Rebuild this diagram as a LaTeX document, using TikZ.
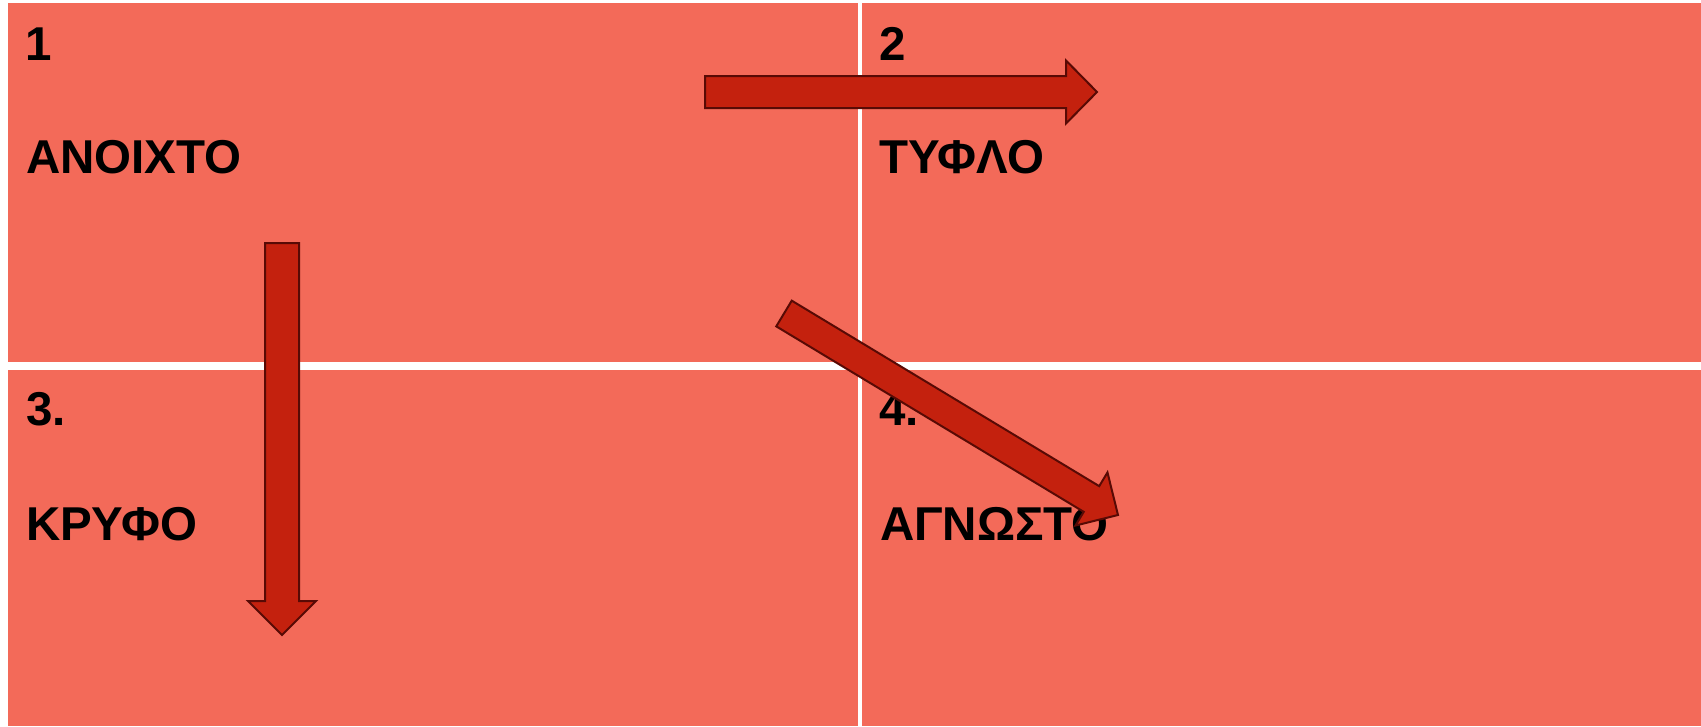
\documentclass[tikz,border=0pt]{standalone}
\usepackage{fontspec}
\setmainfont{Liberation Sans}
\usetikzlibrary{calc}
\usetikzlibrary{positioning}
\definecolor{panelred}{RGB}{243,106,89}
\definecolor{arrowred}{RGB}{196,33,14}
\definecolor{arrowedge}{RGB}{88,10,5}
\tikzset{x=1pt, y=-1pt, font=\bfseries\fontsize{47.5}{47.5}\selectfont}
\tikzstyle{panel} = [fill=panelred, draw=none]
\tikzstyle{numtext} = [inner sep=0pt, outer sep=0pt, anchor=base west, text=black]
\tikzstyle{wordtext} = [inner sep=0pt, outer sep=0pt, anchor=base west, text=black]
\tikzstyle{arrowbox} = [fill=arrowred, draw=arrowedge, line width=2pt, line join=miter]
% block arrow: tail, tip, half shaft, half head, head length
\newcommand{\blockarrow}[5]{%
	\coordinate (#1-base) at ($(#2)!#5!(#1)$);
	\draw [arrowbox] ($(#1)!#3!90:(#2)$) -- ($(#1-base)!#3!-90:(#1)$) -- ($(#1-base)!#4!-90:(#1)$) -- (#2)
		-- ($(#1-base)!#4!90:(#1)$) -- ($(#1-base)!#3!90:(#1)$) -- ($(#1)!#3!-90:(#2)$) -- cycle;}

\begin{document}
\begin{tikzpicture}
			\useasboundingbox [fill=white] (0,0) rectangle (1701,726);

			\fill [panel] (8,3) rectangle (858,362);
			\fill [panel] (862,3) rectangle (1701,362);
			\fill [panel] (8,370) rectangle (858,726);
			\fill [panel] (862,370) rectangle (1701,726);

			\node [numtext] at (25,60) (num1) {1};
			\node [wordtext] at (26,173) (word1) {ΑΝΟΙΧΤΟ};
			\node [numtext] at (879,60) (num2) {2};
			\node [wordtext] at (879,173) (word2) {ΤΥΦΛΟ};
			\node [numtext] at (26,425) (num3) {3.};
			\node [wordtext] at (26,540) (word3) {ΚΡΥΦΟ};
			\node [numtext] at (879,425) (num4) {4.};
			\node [wordtext] at (880,540) (word4) {ΑΓΝΩΣΤΟ};

			\coordinate (hor) at (705,92);
			\coordinate (hor_tip) at (1097,92);
			\coordinate (ver) at (282,243);
			\coordinate (ver_tip) at (282,635);
			\coordinate (diag) at (784,313.5);
			\coordinate (diag_tip) at (1118,515);

			\blockarrow{hor}{hor_tip}{16pt}{31.5pt}{31pt}
			\blockarrow{ver}{ver_tip}{17pt}{34pt}{34pt}
			\blockarrow{diag}{diag_tip}{15pt}{31pt}{31pt}
		\end{tikzpicture}
\end{document}
